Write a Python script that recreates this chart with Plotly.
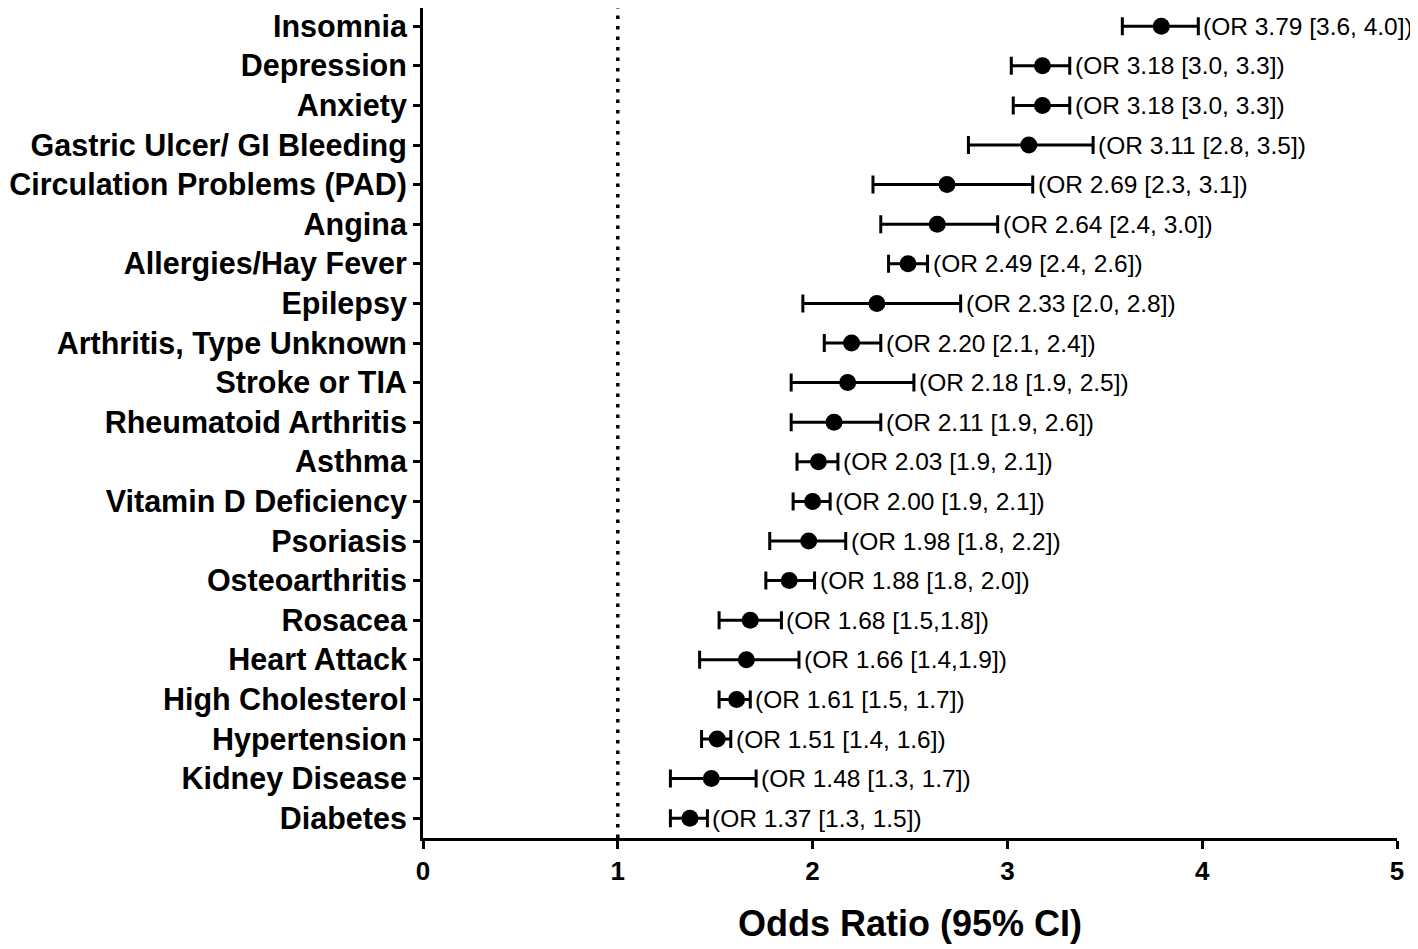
import plotly.graph_objects as go

conditions = ["Insomnia", "Depression", "Anxiety", "Gastric Ulcer/ GI Bleeding",
              "Circulation Problems (PAD)", "Angina", "Allergies/Hay Fever", "Epilepsy",
              "Arthritis, Type Unknown", "Stroke or TIA", "Rheumatoid Arthritis", "Asthma",
              "Vitamin D Deficiency", "Psoriasis", "Osteoarthritis", "Rosacea",
              "Heart Attack", "High Cholesterol", "Hypertension", "Kidney Disease", "Diabetes"]
odds_ratio = [3.79, 3.18, 3.18, 3.11, 2.69, 2.64, 2.49, 2.33, 2.20, 2.18, 2.11, 2.03,
              2.00, 1.98, 1.88, 1.68, 1.66, 1.61, 1.51, 1.48, 1.37]
ci_low = [3.59, 3.02, 3.03, 2.80, 2.31, 2.35, 2.39, 1.95, 2.06, 1.89, 1.89, 1.92,
          1.90, 1.78, 1.76, 1.52, 1.42, 1.52, 1.43, 1.27, 1.27]
ci_high = [3.98, 3.32, 3.32, 3.44, 3.13, 2.95, 2.59, 2.76, 2.35, 2.52, 2.35, 2.13,
           2.09, 2.17, 2.01, 1.84, 1.93, 1.68, 1.58, 1.71, 1.46]
labels = ["(OR 3.79 [3.6, 4.0])", "(OR 3.18 [3.0, 3.3])", "(OR 3.18 [3.0, 3.3])",
          "(OR 3.11 [2.8, 3.5])", "(OR 2.69 [2.3, 3.1])", "(OR 2.64 [2.4, 3.0])",
          "(OR 2.49 [2.4, 2.6])", "(OR 2.33 [2.0, 2.8])", "(OR 2.20 [2.1, 2.4])",
          "(OR 2.18 [1.9, 2.5])", "(OR 2.11 [1.9, 2.6])", "(OR 2.03 [1.9, 2.1])",
          "(OR 2.00 [1.9, 2.1])", "(OR 1.98 [1.8, 2.2])", "(OR 1.88 [1.8, 2.0])",
          "(OR 1.68 [1.5,1.8])", "(OR 1.66 [1.4,1.9])", "(OR 1.61 [1.5, 1.7])",
          "(OR 1.51 [1.4, 1.6])", "(OR 1.48 [1.3, 1.7])", "(OR 1.37 [1.3, 1.5])"]
x_ticks = [0, 1, 2, 3, 4, 5]

ypos = list(range(len(conditions)))
err_plus = [h - o for h, o in zip(ci_high, odds_ratio)]
err_minus = [o - l for o, l in zip(odds_ratio, ci_low)]

FONT = "Liberation Sans, Arial, sans-serif"

fig = go.Figure()
fig.add_trace(go.Scatter(
    x=odds_ratio, y=ypos, mode="markers",
    marker=dict(color="black", size=17),
    error_x=dict(type="data", symmetric=False, array=err_plus, arrayminus=err_minus,
                 color="black", thickness=3, width=9),
    showlegend=False, cliponaxis=False,
))

# reference line at OR = 1
fig.add_shape(type="line", x0=1, x1=1, y0=0, y1=1, xref="x", yref="paper",
              line=dict(color="black", width=3.5, dash="3.5px,7px"))

for y, h, t in zip(ypos, ci_high, labels):
    fig.add_annotation(x=h, y=y, text=t, showarrow=False, xanchor="left",
                       xshift=3, font=dict(family=FONT, size=24.5, color="black"))

fig.update_layout(
    width=1410, height=941,
    margin=dict(l=415, r=21, t=0, b=111, autoexpand=False),
    plot_bgcolor="white", paper_bgcolor="white",
    xaxis=dict(range=[0, 5], tickvals=x_ticks, ticks="outside", ticklen=8, tickwidth=3,
               tickcolor="black", showline=True, linewidth=3, linecolor="black",
               showgrid=False, zeroline=False, automargin=False,
               tickfont=dict(family=FONT, size=26, color="black", weight="bold"),
               title=dict(text="<b>Odds Ratio (95% CI)</b>", standoff=26,
                          font=dict(family=FONT, size=36, color="black"))),
    yaxis=dict(range=[20.5, -0.46], tickvals=ypos, ticktext=["<b>%s</b>" % c for c in conditions],
               ticks="outside", ticklen=7, tickwidth=3, tickcolor="black",
               showline=True, linewidth=3, linecolor="black", showgrid=False, zeroline=False,
               ticklabeloverflow="allow", automargin=False,
               tickfont=dict(family=FONT, size=30.5, color="black")),
)

fig.write_html("out.html")
